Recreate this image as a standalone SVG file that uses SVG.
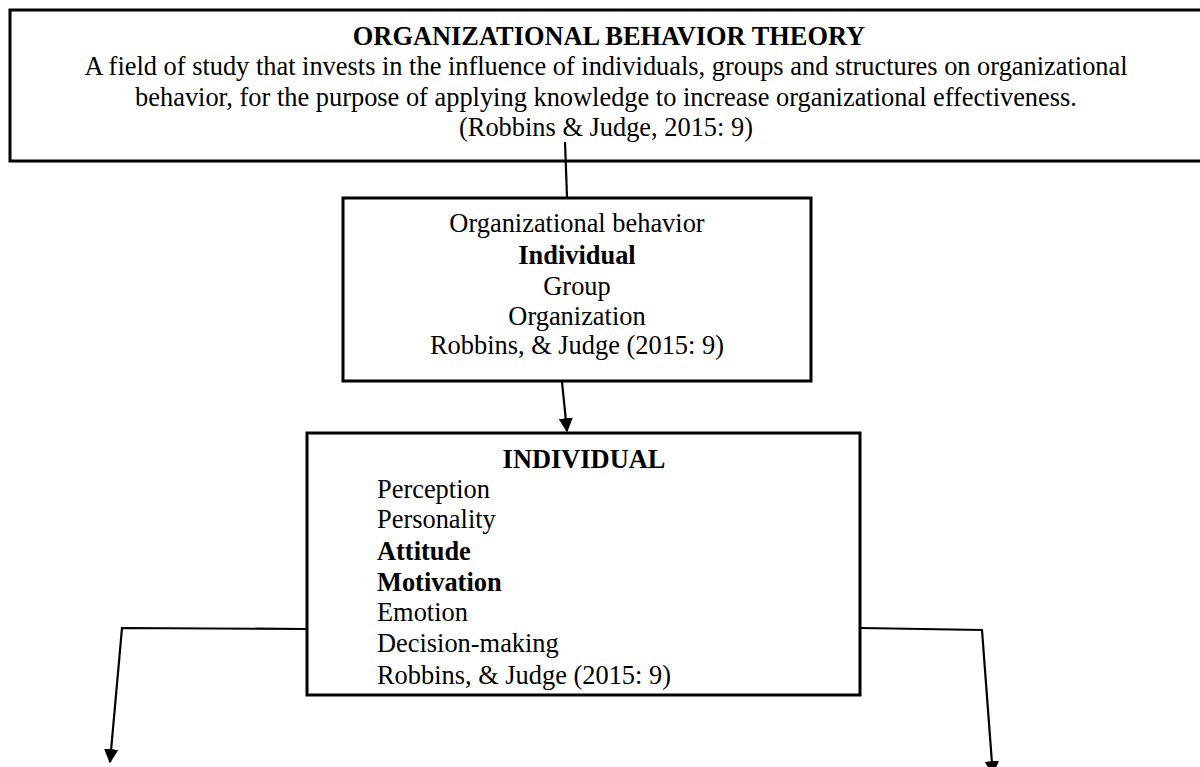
<svg xmlns="http://www.w3.org/2000/svg" width="1200" height="767" viewBox="0 0 1200 767">
<defs>
<style>
.box{fill:#fff;stroke:#000;stroke-width:3}
.t{font-family:"Liberation Serif","Times New Roman",serif;font-size:26.4px;fill:#000}
.c{text-anchor:middle}
.b{font-weight:bold}
.ln{fill:none;stroke:#000;stroke-width:2.2}
</style>
<marker id="ah" viewBox="0 0 10 10" refX="9" refY="5" markerWidth="6.5" markerHeight="6.5" orient="auto" markerUnits="strokeWidth">
<path d="M0,0 L10,5 L0,10 Z" fill="#000"/>
</marker>
</defs>
<rect width="1200" height="767" fill="#fff"/>
<g id="theory">
<rect class="box" x="10" y="10" width="1200" height="151"/>
<text class="t c b" x="609" y="45">ORGANIZATIONAL BEHAVIOR THEORY</text>
<text class="t c" x="606" y="75">A field of study that invests in the influence of individuals, groups and structures on organizational</text>
<text class="t c" x="606" y="106">behavior, for the purpose of applying knowledge to increase organizational effectiveness.</text>
<text class="t c" x="606" y="136">(Robbins &amp; Judge, 2015: 9)</text>
</g>
<g id="ob">
<rect class="box" x="343" y="198" width="468" height="183"/>
<text class="t c" x="577" y="232">Organizational behavior</text>
<text class="t c b" x="577" y="264">Individual</text>
<text class="t c" x="577" y="295">Group</text>
<text class="t c" x="577" y="325">Organization</text>
<text class="t c" x="577" y="354">Robbins, &amp; Judge (2015: 9)</text>
</g>
<g id="individual">
<rect class="box" x="307" y="433" width="553" height="262"/>
<text class="t c b" x="584" y="468">INDIVIDUAL</text>
<text class="t" x="377" y="498">Perception</text>
<text class="t" x="377" y="528">Personality</text>
<text class="t b" x="377" y="560">Attitude</text>
<text class="t b" x="377" y="591">Motivation</text>
<text class="t" x="377" y="621">Emotion</text>
<text class="t" x="377" y="652">Decision-making</text>
<text class="t" x="377" y="684">Robbins, &amp; Judge (2015: 9)</text>
</g>
<g id="connectors">
<line class="ln" x1="565" y1="142" x2="567" y2="197"/>
<line class="ln" x1="562" y1="382" x2="567" y2="431" marker-end="url(#ah)"/>
<polyline class="ln" points="306,629 122,628 110,762" marker-end="url(#ah)"/>
<polyline class="ln" points="861,628 982,630 992.8,774" marker-end="url(#ah)"/>
</g>
</svg>
